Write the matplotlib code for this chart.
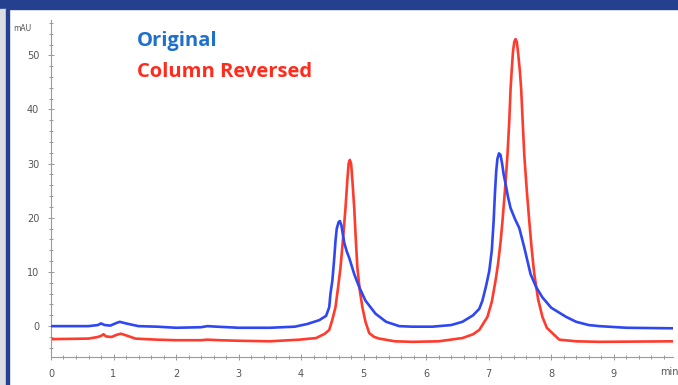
import numpy as np
import matplotlib
matplotlib.use('Agg')
import matplotlib.pyplot as plt
from matplotlib.patches import Rectangle

#### Chromatogram traces (time in min, signal in mAU)
t_original = [0, 0.6, 0.75, 0.80, 0.86, 0.95, 1.05, 1.10, 1.2, 1.4, 1.7, 2.0, 2.4, 2.5, 2.65,
              3.0, 3.5, 3.9, 4.1, 4.29, 4.40, 4.45, 4.47, 4.50, 4.53, 4.55, 4.57, 4.60, 4.62,
              4.645, 4.67, 4.69, 4.73, 4.77, 4.85, 4.93, 5.03, 5.19, 5.36, 5.57, 5.78, 6.1, 6.4,
              6.58, 6.75, 6.85, 6.90, 6.96, 7.01, 7.05, 7.08, 7.10, 7.12, 7.14, 7.165, 7.19, 7.215,
              7.24, 7.27, 7.31, 7.35, 7.42, 7.49, 7.57, 7.67, 7.76, 7.86, 8.0, 8.24, 8.4, 8.6,
              8.77, 9.2, 9.95]
y_original = [0, 0.0, 0.2, 0.5, 0.2, 0.1, 0.6, 0.8, 0.5, 0.0, -0.1, -0.3, -0.2, 0.0, -0.1,
              -0.3, -0.3, -0.1, 0.4, 1.1, 1.9, 3.5, 6.0, 8.4, 12.5, 15.7, 18.0, 19.2, 19.4,
              18.6, 16.8, 15.4, 13.8, 12.6, 9.6, 7.2, 4.7, 2.3, 0.8, 0.0, -0.1, -0.1, 0.2,
              0.8, 2.0, 3.2, 4.7, 7.5, 10.2, 14.0, 19.5, 24.5, 28.5, 30.9, 31.9, 31.6, 30.0,
              28.0, 26.3, 23.8, 21.8, 19.8, 18.1, 14.5, 9.6, 7.2, 5.3, 3.4, 1.7, 0.8, 0.2,
              0.0, -0.3, -0.4]

t_reversed = [0, 0.6, 0.75, 0.80, 0.84, 0.88, 0.97, 1.05, 1.12, 1.2, 1.35, 1.7, 2.0, 2.4, 2.5,
              2.7, 3.0, 3.5, 3.97, 4.24, 4.38, 4.45, 4.50, 4.55, 4.59, 4.63, 4.67, 4.71, 4.74,
              4.76, 4.78, 4.80, 4.82, 4.85, 4.875, 4.90, 4.94, 4.98, 5.03, 5.09, 5.17, 5.25, 5.5,
              5.78, 6.2, 6.58, 6.75, 6.85, 6.98, 7.05, 7.11, 7.15, 7.19, 7.22, 7.26, 7.30, 7.33,
              7.35, 7.37, 7.39, 7.41, 7.43, 7.45, 7.47, 7.50, 7.52, 7.545, 7.57, 7.61, 7.65, 7.69,
              7.73, 7.79, 7.86, 7.93, 8.02, 8.13, 8.4, 8.77, 9.95]
y_reversed = [-2.4, -2.3, -2.0, -1.8, -1.5, -1.9, -2.0, -1.6, -1.4, -1.7, -2.3, -2.5, -2.6, -2.6, -2.5,
              -2.6, -2.7, -2.8, -2.5, -2.2, -1.4, -0.7, 1.2, 3.5, 7.0, 10.8, 16.0, 21.8, 27.0,
              30.0, 30.7, 30.0, 27.0, 21.8, 16.0, 10.8, 6.5, 3.5, 0.8, -1.3, -2.0, -2.3, -2.8,
              -2.9, -2.8, -2.2, -1.5, -0.7, 1.7, 4.5, 8.4, 11.5, 15.5, 19.3, 25.0, 31.5, 38.0,
              43.7, 47.5, 50.8, 52.5, 53.0, 52.5, 50.5, 47.0, 43.7, 37.5, 31.5, 25.0, 19.3, 14.0,
              9.6, 5.0, 1.7, -0.3, -1.3, -2.5, -2.8, -2.9, -2.8]

y_ticks = [0, 10, 20, 30, 40, 50]
x_ticks = [0, 1, 2, 3, 4, 5, 6, 7, 8, 9]

fig = plt.figure(figsize=(6.78, 3.85), dpi=100)
fig.patch.set_facecolor('white')

# frame: navy band on top, grey strip + navy line on the left
fig.patches.append(Rectangle((0, 0.976), 1, 0.024, transform=fig.transFigure,
                             color='#24408e', zorder=0))
fig.patches.append(Rectangle((0, 0), 0.009, 0.976, transform=fig.transFigure,
                             color='#dcdde2', zorder=0))
fig.patches.append(Rectangle((0.009, 0), 0.004, 0.976, transform=fig.transFigure,
                             color='#24408e', zorder=0))

ax = fig.add_axes([0.0752, 0.0727, 0.9176, 0.875])
ax.plot(t_original, y_original, color='#2f47f2', lw=1.9, zorder=3)
ax.plot(t_reversed, y_reversed, color='#ff3b2e', lw=1.9, zorder=2)

ax.set_xlim(0, 9.95)
ax.set_ylim(-5.7, 56.5)
ax.set_xticks(x_ticks)
ax.set_yticks(y_ticks)
ax.set_xticks(np.arange(0, 9.95, 0.2), minor=True)
ax.set_yticks(np.arange(-4, 57, 2), minor=True)

for s in ['top', 'right']:
    ax.spines[s].set_visible(False)
for s in ['left', 'bottom']:
    ax.spines[s].set_color('#9a9a9a')
    ax.spines[s].set_linewidth(0.8)

ax.tick_params(which='both', direction='inout', colors='#9a9a9a', width=0.7,
               labelcolor='#555555', labelsize=7)
ax.tick_params(which='major', length=5, pad=6)
ax.tick_params(which='minor', length=3)

fig.text(0.019, 0.927, 'mAU', fontsize=5.5, color='#555555', va='center')
fig.text(0.974, 0.033, 'min', fontsize=7, color='#555555', va='center')

fig.text(0.202, 0.893, 'Original', fontsize=14.5, fontweight='bold', family='Open Sans',
         color='#1f6fcc', va='center')
fig.text(0.202, 0.813, 'Column Reversed', fontsize=14.5, fontweight='bold', family='Open Sans',
         color='#ff2b1c', va='center')

plt.savefig('out.png', dpi=100)
